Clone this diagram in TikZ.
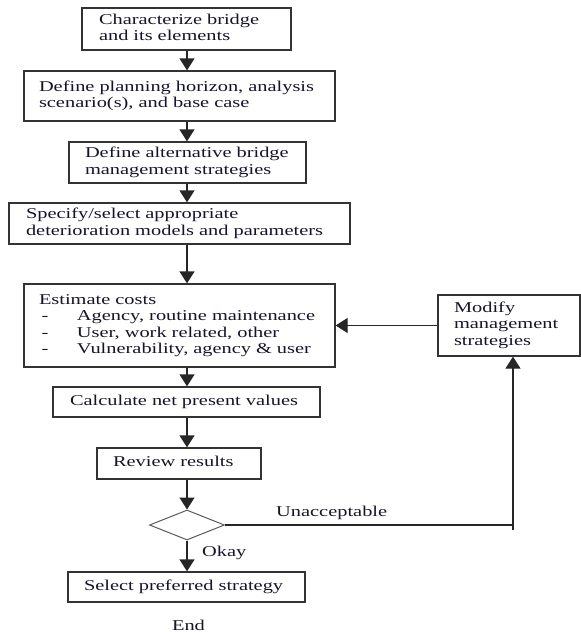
\documentclass[tikz,border=0pt]{standalone}
\usepackage{fontspec}
\setmainfont{Liberation Serif}[FakeStretch=1.36]
\usetikzlibrary{arrows.meta,shapes.geometric}

\definecolor{ink}{HTML}{15152A}
\definecolor{frame}{HTML}{333333}
\definecolor{rule}{HTML}{5A5A5A}

\tikzset{
  txt/.style={font=\fontsize{15}{16.5}\selectfont, text=ink},
  flowbox/.style={txt, draw=frame, line width=1.3pt, rectangle, align=left, inner ysep=0pt},
  flowline/.style={draw=black!85, line width=1.3pt},
  arr/.style={flowline, -{Triangle[width=15pt,length=12pt]}},
  decision/.style={diamond, draw=rule, line width=1pt, minimum width=75pt, minimum height=30pt, inner sep=0pt}
}

\newcommand{\boxlines}[1]{\begin{tabular}{@{}l@{}}#1\end{tabular}}
\newcommand{\costitem}[1]{\makebox[38pt][l]{\,-}#1}

\begin{document}
\begin{tikzpicture}[x=1pt, y=-1pt]
  \useasboundingbox (0,0) rectangle (581,632);
  \coordinate (axis) at (187,0);
  \coordinate (loop) at (513,525);
  \coordinate (tail) at (513,530);

  % process steps
  \node[flowbox, text width=175pt, inner xsep=17pt, minimum height=42pt] (b1) at (186.5,29)
    {\boxlines{Characterize bridge\\and its elements}};
  \node[flowbox, text width=281pt, inner xsep=15pt, minimum height=50pt] (b2) at (179.5,96)
    {\boxlines{Define planning horizon, analysis\\scenario(s), and base case}};
  \node[flowbox, text width=205pt, inner xsep=16pt, minimum height=41pt] (b3) at (187.5,162.5)
    {\boxlines{Define alternative bridge\\management strategies}};
  \node[flowbox, text width=307pt, inner xsep=17pt, minimum height=41pt] (b4) at (179.5,223.5)
    {\boxlines{Specify/select appropriate\\deterioration models and parameters}};
  \node[flowbox, text width=281pt, inner xsep=15pt, minimum height=83pt] (b5) at (179.5,325.5)
    {\boxlines{Estimate costs\\\costitem{Agency, routine maintenance}\\\costitem{User, work related, other}\\\costitem{Vulnerability, agency \& user}}};
  \node[flowbox, text width=110pt, inner xsep=16pt, minimum height=61pt] (mod) at (509,325.5)
    {\boxlines{Modify\\management\\strategies}};
  \node[flowbox, text width=233pt, inner xsep=17pt, minimum height=30pt] (b6) at (186.5,402)
    {\boxlines{Calculate net present values}};
  \node[flowbox, text width=132pt, inner xsep=16pt, minimum height=31pt] (b7) at (179,463.5)
    {\boxlines{Review results}};
  \node[decision] (dec) at (187,525) {};
  \node[flowbox, text width=205pt, inner xsep=16pt, minimum height=30pt] (b8) at (186.5,587)
    {\boxlines{Select preferred strategy}};

  % labels
  \node[txt, anchor=west, inner sep=0pt] (unacc) at (276,513) {Unacceptable};
  \node[txt, anchor=west, inner sep=0pt] (okay) at (202,553) {Okay};
  \node[txt, inner sep=0pt] (end) at (188.5,625) {End};

  % main flow
  \draw[arr] (b1.south -| axis) -- (b2.north -| axis);
  \draw[arr] (b2.south -| axis) -- (b3.north -| axis);
  \draw[arr] (b3.south -| axis) -- (b4.north -| axis);
  \draw[arr] (b4.south -| axis) -- (b5.north -| axis);
  \draw[arr] (b5.south -| axis) -- (b6.north -| axis);
  \draw[arr] (b6.south -| axis) -- (b7.north -| axis);
  \draw[arr] (b7.south -| axis) -- (dec.north);
  \draw[arr] (dec.south) -- (b8.north -| axis);

  % feedback loop
  \draw[flowline] (tail) -- (loop);
  \draw[arr] (dec.east) -- (loop) -- (mod.south -| loop);
  \draw[arr] (mod.west) -- (b5.east);
\end{tikzpicture}
\end{document}
